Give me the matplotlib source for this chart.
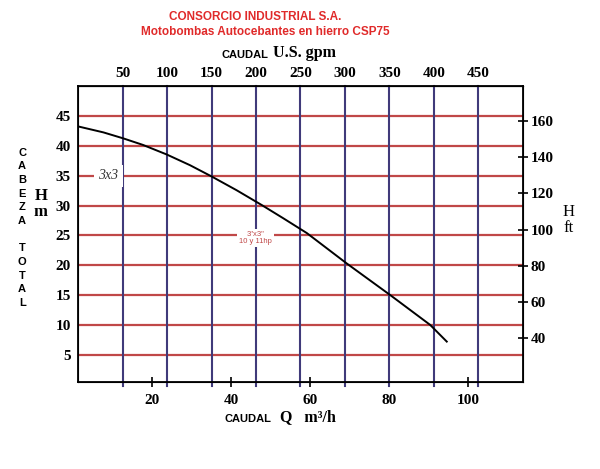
import matplotlib
matplotlib.use('Agg')
import matplotlib.pyplot as plt
import numpy as np

# curve (Q m3/h, H m)
q = [1.3, 7.7, 12.7, 17.7, 23.7, 29.6, 35.1, 41.4, 47.8, 53.2, 59.2, 69.3, 80.3, 90.4, 94.6]
h = [43.3, 42.3, 41.3, 40.2, 38.6, 36.8, 34.9, 32.6, 30.1, 27.9, 25.4, 20.3, 15.0, 10.0, 7.2]

h_ticks = [5, 10, 15, 20, 25, 30, 35, 40, 45]
q_ticks = [20, 40, 60, 80, 100]
gpm_ticks = [50, 100, 150, 200, 250, 300, 350, 400, 450]
ft_ticks = [40, 60, 80, 100, 120, 140, 160]

RED = '#c04848'
NAVY = '#403a7a'
serif = 'Liberation Serif'
sans = 'Liberation Sans'

# gpm scale of the chart is slightly shifted
def g2q(g):
    return 1.33 + 0.225 * np.asarray(g, dtype=float)

def q2g(x):
    return (np.asarray(x, dtype=float) - 1.33) / 0.225

fig = plt.figure(figsize=(6, 4.69), dpi=100)
ax = fig.add_axes([0.13, 0.1855, 0.7417, 0.6311])
ax.set_xlim(1.27, 113.9)
ax.set_ylim(0.42, 50.08)

ax.set_yticks(h_ticks)
ax.set_yticklabels([str(v) for v in h_ticks], fontfamily=serif, fontweight='bold', fontsize=11)
ax.tick_params(axis='y', length=0, pad=5)
ax.yaxis.grid(True, color=RED, lw=1.6, zorder=1)
ax.set_axisbelow(True)

ax.set_xticks(q_ticks)
ax.set_xticklabels([str(v) for v in q_ticks], fontfamily=serif, fontweight='bold', fontsize=11)
ax.tick_params(axis='x', direction='inout', length=7, width=1.2, pad=5)

for g in gpm_ticks:
    ax.axvline(g2q(g), ymin=-0.012, ymax=1, color=NAVY, lw=1.5, zorder=1, clip_on=False)

ax.plot(q, h, color='black', lw=1.4, zorder=3, solid_joinstyle='round')

for s in ax.spines.values():
    s.set_linewidth(1.3)

top = ax.secondary_xaxis('top', functions=(q2g, g2q))
top.set_xticks(gpm_ticks)
top.set_xticklabels([str(v) for v in gpm_ticks], fontfamily=serif, fontweight='bold', fontsize=11)
top.tick_params(length=0, pad=4)

ax2 = ax.twinx()
ax2.set_ylim(15.7, 179.4)
ax2.set_yticks(ft_ticks)
ax2.set_yticklabels([str(v) for v in ft_ticks], fontfamily=serif, fontweight='bold', fontsize=11)
ax2.tick_params(axis='y', direction='inout', length=7, width=1.2, pad=2)

# labels inside the chart
ax.text(9.0, 35.0, '3x3', fontfamily=serif, fontstyle='italic', fontsize=10, color='#333333',
        ha='center', va='center', zorder=4,
        bbox=dict(facecolor='white', edgecolor='none', pad=3.5))
ax.text(46.2, 24.6, '3"x3"\n10 y 11hp', fontfamily=sans, fontsize=5.5, color=RED,
        ha='center', va='center', zorder=4, linespacing=1.1,
        bbox=dict(facecolor='white', edgecolor='none', pad=1.5))

# title and axis titles
fig.text(0.425, 0.963, 'CONSORCIO INDUSTRIAL S.A.', fontfamily=sans, fontweight='bold',
         fontsize=8.5, color='#e02a2a', ha='center', va='center')
fig.text(0.442, 0.931, 'Motobombas Autocebantes en hierro CSP75', fontfamily=sans, fontweight='bold',
         fontsize=8.5, color='#e02a2a', ha='center', va='center')
fig.text(0.448, 0.883, 'CAUDAL', fontfamily=sans, fontweight='bold', fontsize=8, ha='right', va='center')
fig.text(0.455, 0.886, 'U.S. gpm', fontfamily=serif, fontweight='bold', fontsize=11.5, ha='left', va='center')
fig.text(0.453, 0.107, 'CAUDAL', fontfamily=sans, fontweight='bold', fontsize=8, ha='right', va='center')
fig.text(0.467, 0.110, 'Q   m\u00b3/h', fontfamily=serif, fontweight='bold', fontsize=11.5, ha='left', va='center')

fig.text(0.037, 0.514, 'C\nA\nB\nE\nZ\nA\n\nT\nO\nT\nA\nL', fontfamily=sans, fontweight='bold',
         fontsize=8, ha='center', va='center', linespacing=1.46)
fig.text(0.068, 0.565, 'H\nm', fontfamily=serif, fontweight='bold', fontsize=12,
         ha='center', va='center', linespacing=1.0)
fig.text(0.948, 0.530, 'H\nft', fontfamily=serif, fontsize=12, ha='center', va='center', linespacing=1.0)

fig.savefig('out.png', dpi=100)
